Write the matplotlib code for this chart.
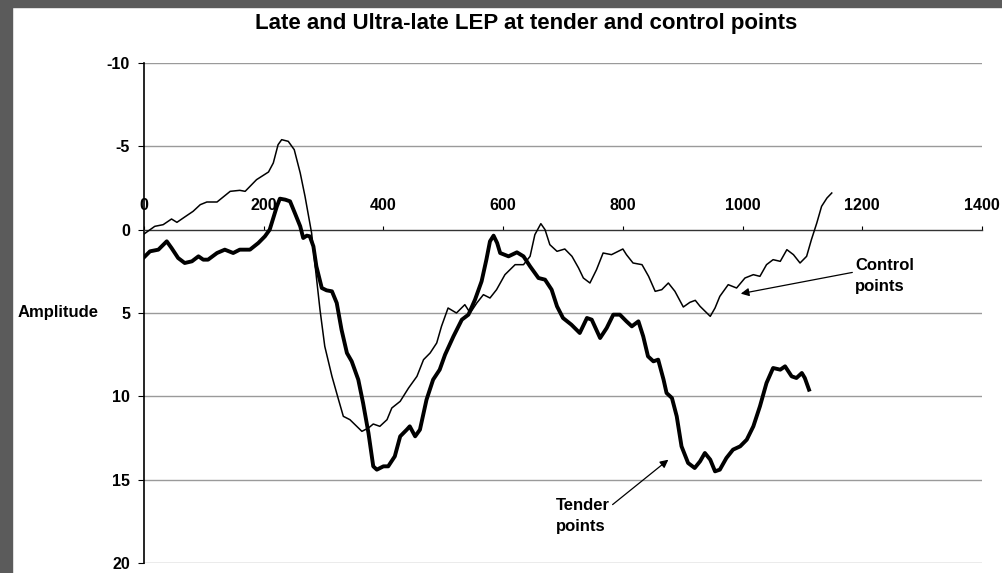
import matplotlib
matplotlib.use("Agg")
import matplotlib.pyplot as plt
from matplotlib.patches import Rectangle

plt.rcParams['font.family'] = ['Liberation Sans', 'DejaVu Sans']
plt.rcParams['font.weight'] = 'bold'

# latency (ms) and amplitude for the two traces
control_x = [0, 18, 32, 46, 55, 68, 82, 94, 105, 122, 144, 160, 169, 188, 208, 216,
             224, 230, 241, 251, 261, 269, 275, 280, 286, 294, 302, 314, 325, 333,
             344, 364, 375, 383, 394, 406, 414, 428, 442, 456, 467, 478, 489, 497,
             508, 522, 536, 545, 556, 567, 578, 589, 603, 620, 634, 645, 653, 663,
             670, 678, 690, 703, 715, 726, 734, 745, 756, 767, 781, 800, 806, 817,
             832, 843, 854, 865, 876, 887, 901, 912, 921, 929, 946, 954, 962, 976,
             990, 1004, 1018, 1029, 1040, 1051, 1063, 1074, 1085, 1096, 1107, 1115,
             1124, 1132, 1141, 1149]
control_y = [0.26, -0.2, -0.3, -0.64, -0.44, -0.76, -1.1, -1.5, -1.66, -1.66, -2.3,
             -2.36, -2.3, -3.0, -3.46, -4.0, -5.1, -5.4, -5.3, -4.8, -3.4, -2.0, -0.8,
             0.2, 2.2, 4.8, 7.0, 8.8, 10.2, 11.2, 11.4, 12.1, 11.9, 11.66, 11.8, 11.4,
             10.7, 10.3, 9.5, 8.8, 7.8, 7.4, 6.8, 5.8, 4.7, 5.0, 4.5, 5.0, 4.4, 3.9,
             4.1, 3.6, 2.7, 2.1, 2.1, 1.6, 0.3, -0.36, 0.0, 0.9, 1.3, 1.16, 1.6, 2.3,
             2.9, 3.2, 2.4, 1.4, 1.5, 1.16, 1.5, 2.0, 2.1, 2.8, 3.7, 3.6, 3.2, 3.7,
             4.64, 4.36, 4.24, 4.6, 5.2, 4.7, 4.0, 3.3, 3.5, 2.9, 2.7, 2.8, 2.1, 1.8,
             1.9, 1.2, 1.5, 2.0, 1.6, 0.6, -0.4, -1.4, -1.9, -2.2]

tender_x = [0, 10, 24, 38, 46, 57, 68, 80, 91, 99, 107, 122, 135, 149, 160, 177, 191,
            202, 210, 216, 222, 227, 236, 244, 252, 261, 266, 272, 277, 283, 288, 297,
            305, 314, 322, 330, 339, 347, 358, 366, 375, 383, 389, 400, 408, 419, 428,
            439, 444, 453, 461, 472, 483, 494, 503, 517, 531, 542, 553, 564, 572, 578,
            584, 590, 595, 609, 623, 634, 645, 659, 670, 681, 690, 700, 714, 728, 740,
            748, 762, 773, 784, 795, 806, 815, 826, 834, 842, 851, 859, 868, 873, 882,
            890, 898, 909, 920, 929, 937, 946, 954, 962, 973, 984, 996, 1007, 1018,
            1029, 1040, 1051, 1063, 1071, 1082, 1090, 1099, 1104, 1111]
tender_y = [1.66, 1.3, 1.2, 0.7, 1.1, 1.7, 2.0, 1.9, 1.6, 1.8, 1.8, 1.4, 1.2, 1.4, 1.2,
            1.2, 0.8, 0.4, 0.0, -0.7, -1.4, -1.86, -1.8, -1.7, -1.0, -0.2, 0.5, 0.36,
            0.4, 1.0, 2.2, 3.5, 3.64, 3.7, 4.4, 6.0, 7.4, 7.9, 9.0, 10.4, 12.2, 14.2,
            14.4, 14.2, 14.2, 13.6, 12.4, 12.0, 11.8, 12.4, 12.0, 10.2, 9.0, 8.4, 7.5,
            6.4, 5.4, 5.1, 4.2, 3.1, 1.8, 0.7, 0.36, 0.8, 1.4, 1.6, 1.36, 1.6, 2.2,
            2.9, 3.0, 3.6, 4.6, 5.3, 5.7, 6.2, 5.3, 5.4, 6.5, 5.9, 5.1, 5.1, 5.5, 5.8,
            5.5, 6.4, 7.6, 7.9, 7.8, 9.0, 9.8, 10.1, 11.2, 13.0, 14.0, 14.3, 13.9,
            13.4, 13.8, 14.5, 14.4, 13.7, 13.2, 13.0, 12.6, 11.8, 10.6, 9.2, 8.3, 8.4,
            8.2, 8.8, 8.9, 8.6, 8.9, 9.6]

x_ticks = [0, 200, 400, 600, 800, 1000, 1200, 1400]
y_ticks = [-10, -5, 0, 5, 10, 15, 20]

W, H = 1003, 573
fig = plt.figure(figsize=(W / 100, H / 100), dpi=100)

# dark scan border on top and left
fig.patches.append(Rectangle((0, 1 - 7 / H), 1, 7 / H, transform=fig.transFigure,
                             color='#5b5b5b', zorder=0))
fig.patches.append(Rectangle((0, 0), 12 / W, 1, transform=fig.transFigure,
                             color='#5b5b5b', zorder=0))

ax = fig.add_axes([144 / W, 10 / H, (982 - 144) / W, (563 - 63) / H])
ax.set_xlim(0, 1400)
ax.set_ylim(20, -10)

for yv in y_ticks:
    if yv != 0:
        ax.axhline(yv, color='#9a9a9a', lw=1.0, zorder=1)

ax.plot(control_x, control_y, color='black', lw=1.1, zorder=3)
ax.plot(tender_x, tender_y, color='black', lw=2.8, zorder=3)

# x axis sits at amplitude 0 with labels above it
for s in ['bottom', 'right']:
    ax.spines[s].set_visible(False)
ax.spines['top'].set_position(('data', 0))
ax.spines['top'].set_color('#333333')
ax.spines['top'].set_linewidth(1.0)
ax.spines['left'].set_linewidth(1.2)
ax.xaxis.set_ticks_position('top')
ax.set_xticks(x_ticks)
ax.set_xticklabels([str(v) for v in x_ticks])
ax.set_yticks(y_ticks)
ax.set_yticklabels([str(v) for v in y_ticks])
ax.tick_params(axis='x', direction='out', length=3, pad=9, labelsize=11.5)
ax.tick_params(axis='y', direction='out', length=4, pad=6, labelsize=11.5)
for lbl in ax.get_xticklabels() + ax.get_yticklabels():
    lbl.set_fontweight('bold')

fig.text(526 / W, 1 - 24 / H, 'Late and Ultra-late LEP at tender and control points',
         ha='center', va='center', fontsize=16, fontweight='bold')
fig.text(18 / W, 1 - 313 / H, 'Amplitude', ha='left', va='center',
         fontsize=12, fontweight='bold')

ax.annotate('Control\npoints', xy=(997, 3.84), xytext=(1188, 2.75),
            ha='left', va='center', fontsize=12, fontweight='bold', linespacing=1.5,
            arrowprops=dict(arrowstyle='-|>', color='black', lw=0.9,
                            shrinkA=0, shrinkB=0, mutation_scale=12,
                            relpos=(0, 0.6)))
ax.annotate('Tender\npoints', xy=(876, 13.8), xytext=(688, 17.15),
            ha='left', va='center', fontsize=12, fontweight='bold', linespacing=1.5,
            arrowprops=dict(arrowstyle='-|>', color='black', lw=0.9,
                            shrinkA=0, shrinkB=0, mutation_scale=12,
                            relpos=(0.9, 0.62)))

fig.savefig('out.png', dpi=100)
